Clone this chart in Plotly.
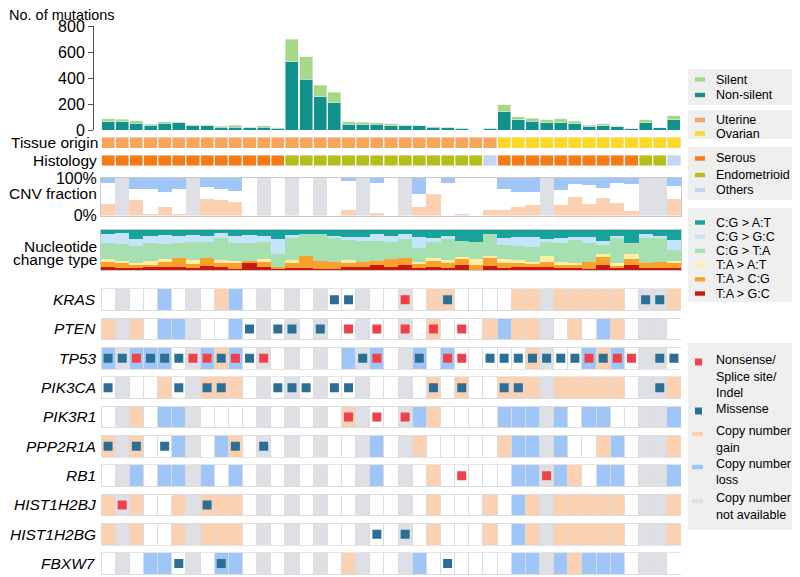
import plotly.graph_objects as go

# 页面 body 默认有 8px 边距：图尺寸与坐标按页面像素减去偏移
PAGE_W, PAGE_H, OFF = 800, 577, 8
W, H = PAGE_W - OFF, PAGE_H - OFF
FONT = "Liberation Sans, Arial, Helvetica, sans-serif"

samples = list(range(41))

# 每个样本的突变数（非沉默 / 沉默）
nonsilent = [62, 62, 51, 38, 51, 54, 31, 33, 23, 23, 18, 21, 15, 526, 392, 256, 208, 44, 44, 44,
             33, 33, 31, 20, 18, 13, 0, 10, 141, 77, 67, 56, 56, 49, 28, 33, 26, 8, 56, 18, 77]
silent = [23, 20, 21, 8, 11, 8, 10, 5, 5, 13, 5, 10, 3, 171, 170, 90, 82, 18, 15, 12,
          16, 5, 2, 6, 5, 2, 3, 5, 54, 26, 23, 23, 31, 18, 10, 16, 2, 0, 21, 0, 31]

# 组织来源 U=Uterine O=Ovarian；组织学 S=Serous E=Endometrioid O=Others
tissue = "UUUUUUUUUUUUUUUUUUUUUUUUUUUU" + "OOOOOOOOOOOOO"
histology = "SSSSSSSSSSSSS" + "EEEEEEEEEEEEEE" + "O" + "SSSSSSSSSS" + "EE" + "O"

# CNV 比例 (%)，None = 无数据
cnv_loss = [14, None, 29, 29, 38, 30, None, 23, 30, 34, 0, None, 0, None, 0, None, 0, 9, None, 12,
            0, None, 43, 0, 12, 0, 0, 0, 30, 36, 36, None, 32, 15, 18, 27, 14, 15, None, None, 21]
cnv_gain = [30, None, 41, 2, 22, 4, None, 45, 41, 36, 0, None, 0, None, 0, None, 0, 14, None, 6,
            0, None, 23, 57, 0, 5, 0, 16, 14, 23, 27, None, 27, 50, 32, 47, 34, 11, None, None, 45]

# 核苷酸替换类型（相对份额）
cg_at = [14, 12, 30, 20, 17, 20, 17, 20, 12, 20, 17, 20, 30, 17, 14, 14, 20, 22, 24, 14, 20,
         14, 22, 27, 20, 34, 37, 14, 27, 24, 24, 30, 27, 22, 24, 34, 20, 42, 14, 20, 32]
cg_gc = [28, 33, 20, 22, 28, 22, 20, 17, 15, 20, 25, 18, 44, 5, 0, 0, 7, 10, 10, 21, 17,
         16, 35, 10, 10, 0, 0, 0, 20, 26, 28, 7, 13, 10, 16, 13, 7, 0, 13, 7, 30]
cg_ta = [48, 50, 50, 53, 45, 45, 55, 50, 65, 55, 53, 52, 38, 70, 66, 81, 70, 60, 63, 60, 53,
         57, 40, 50, 62, 48, 53, 66, 43, 42, 45, 43, 57, 68, 57, 27, 75, 32, 75, 70, 32]
ta_at = [9, 7, 7, 12, 5, 0, 12, 0, 8, 7, 0, 4, 0, 8, 0, 0, 0, 5, 0, 0, 0,
         0, 5, 7, 10, 5, 17, 7, 10, 8, 5, 17, 10, 7, 0, 8, 5, 16, 0, 0, 6]
ta_cg = [13, 13, 5, 7, 19, 27, 13, 23, 14, 18, 7, 18, 5, 17, 37, 25, 23, 15, 15, 12, 24,
         20, 15, 18, 15, 20, 15, 23, 17, 12, 10, 15, 10, 8, 23, 25, 10, 17, 15, 20, 17]
ta_gc = [10, 7, 10, 8, 8, 8, 5, 12, 8, 2, 20, 10, 5, 5, 5, 2, 2, 10, 10, 15, 8,
         15, 5, 10, 5, 15, 0, 12, 5, 10, 10, 10, 5, 7, 2, 15, 5, 15, 5, 5, 5]

# 基因行：CNV 状态 N=中性 G=扩增 L=缺失 X=无数据
gene_names = ["KRAS", "PTEN", "TP53", "PIK3CA", "PIK3R1", "PPP2R1A", "RB1",
              "HIST1H2BJ", "HIST1H2BG", "FBXW7"]
gene_cnv = [
    "NXNNLNXNGLNXNXNXNNXNN" + "XNGGNNNNGGXGGGGGNXXG",
    "GXGNLLXNNLNXNXNXNNXNN" + "XNGNNNGLGGXNGNLGNXXN",
    "LXLLLNXLGLNXNXNXNLXLN" + "XLNLNNNNNGXNNLGLNXXN",
    "NXNNGNXGGGNXNXNXNNXNN" + "XNGNGNNGGGXGGGGGNXXG",
    "NXGNLLXNNNNXNXNXNGXNN" + "XLGNNNNLLLXLNLLNNXXL",
    "GXGNNLXNLGNXNXNXNNXLN" + "XGNNNNNGLLXLNNGLNXXG",
    "NXLNLLXLNLNXNXNXNNXLN" + "XNGNNNNNLLXLGNLLNXXL",
    "GXGNNGXGGGNXNXNXNNXNN" + "XNGNNNGNLGXGGGGGNXXG",
    "GXGNNGXGGGNXNXNXNNXNN" + "XNGNNNGNLGXGGGGGNXXG",
    "NXNLLNXNLLNXNXNXNGXNN" + "XLNNNNNNLLXLGLLLNXXN",
]
gene_missense = [
    [16, 17, 24, 38, 39],
    [10, 12, 13, 15],
    [0, 1, 3, 4, 5, 8, 10, 18, 22, 27, 28, 29, 30, 31, 32, 33, 35, 39, 40],
    [0, 5, 7, 8, 12, 13, 14, 16, 17, 23, 25, 28, 29, 39],
    [],
    [0, 2, 4, 9, 11],
    [],
    [7],
    [19, 21],
    [5, 8, 24],
]
gene_trunc = [
    [21],
    [17, 19, 21, 23, 25],
    [2, 6, 7, 9, 11, 19, 24, 25, 34, 36, 37],
    [],
    [17, 19, 21],
    [],
    [25, 31],
    [1],
    [],
    [],
]

C = {
    "silent": "#a6d886", "nonsilent": "#11918c",
    "U": "#f8a55c", "Ov": "#fbd928",
    "S": "#f77b12", "E": "#b8bf14", "O": "#c4d6f6",
    "gain": "#fbd1b2", "loss": "#9ec6f8", "na": "#dfe0e6",
    "cg_at": "#17a39c", "cg_gc": "#c6e4f7", "cg_ta": "#a6dfb0",
    "ta_at": "#fdf0a6", "ta_cg": "#f9a12c", "ta_gc": "#c9190c",
    "trunc": "#f0414b", "mis": "#2b6e96",
}


def px(x):
    return (x - OFF) / W


def py(y):
    return 1 - (y - OFF) / H


X_DOM = [px(101), px(681)]
panels = [(26, 130), (137, 148.3), (155, 165.7), (178, 215.5), (229.5, 270)]
gene_top = [288.3 + 29.33 * k for k in range(len(gene_names))]
panels += [(t, t + 22.7) for t in gene_top]

fig = go.Figure()
axes = {}
for i, (top, bot) in enumerate(panels, 1):
    sfx = "" if i == 1 else str(i)
    axes["xaxis" + sfx] = dict(domain=X_DOM, range=[-0.5, 40.5], visible=False,
                               anchor="y" + sfx, fixedrange=True, automargin=False)
    axes["yaxis" + sfx] = dict(domain=[py(bot), py(top)], anchor="x" + sfx, visible=False,
                               range=[0, 1], fixedrange=True, automargin=False)


def ax(i):
    sfx = "" if i == 1 else str(i)
    return "x" + sfx, "y" + sfx


# 1. 突变数
xa, ya = ax(1)
fig.add_trace(go.Bar(x=samples, y=nonsilent, width=0.92, marker_color=C["nonsilent"],
                     xaxis=xa, yaxis=ya))
fig.add_trace(go.Bar(x=samples, y=silent, width=0.92, marker_color=C["silent"],
                     xaxis=xa, yaxis=ya))
axes["yaxis"].update(visible=True, range=[0, 800], tickvals=[0, 200, 400, 600, 800],
                     anchor="free", position=px(93), showline=True, linecolor="#555",
                     linewidth=1, ticks="outside", ticklen=5, tickcolor="#555",
                     showgrid=False, zeroline=False,
                     tickfont=dict(size=16, family=FONT, color="black"))

# 2-3. 组织来源 / 组织学
for i, codes, cmap in [(2, tissue, {"U": C["U"], "O": C["Ov"]}),
                       (3, histology, {"S": C["S"], "E": C["E"], "O": C["O"]})]:
    xa, ya = ax(i)
    for code, col in cmap.items():
        xs = [s for s in samples if codes[s] == code]
        fig.add_trace(go.Bar(x=xs, y=[1] * len(xs), width=0.93, marker_color=col,
                             xaxis=xa, yaxis=ya))

# 4. CNV 比例
xa, ya = ax(4)
valid = [s for s in samples if cnv_loss[s] is not None]
na_cols = [s for s in samples if cnv_loss[s] is None]
fig.add_trace(go.Bar(x=valid, y=[cnv_gain[s] for s in valid], width=1,
                     marker=dict(color=C["gain"], line_width=0), xaxis=xa, yaxis=ya))
fig.add_trace(go.Bar(x=valid, y=[100 - cnv_gain[s] - cnv_loss[s] for s in valid], width=1,
                     marker=dict(color="rgba(0,0,0,0)", line_width=0), xaxis=xa, yaxis=ya))
fig.add_trace(go.Bar(x=valid, y=[cnv_loss[s] for s in valid], width=1,
                     marker=dict(color=C["loss"], line_width=0), xaxis=xa, yaxis=ya))
fig.add_trace(go.Bar(x=na_cols, y=[100] * len(na_cols), width=1,
                     marker=dict(color=C["na"], line_width=0), xaxis=xa, yaxis=ya))
frame = dict(visible=True, showline=True, mirror=True, linecolor="#c9c9c9", linewidth=1,
             showgrid=False, zeroline=False, ticks="", showticklabels=False)
axes["xaxis4"].update(frame)
axes["yaxis4"].update(frame)
axes["yaxis4"].update(range=[0, 100], showticklabels=True, tickvals=[0, 100],
                      ticktext=["0%", "100%"],
                      tickfont=dict(size=16, family=FONT, color="black"))

# 5. 核苷酸替换类型（按列归一化到 100%）
xa, ya = ax(5)
nuc = [("ta_gc", ta_gc), ("ta_cg", ta_cg), ("ta_at", ta_at),
       ("cg_ta", cg_ta), ("cg_gc", cg_gc), ("cg_at", cg_at)]
totals = [sum(v[s] for _, v in nuc) for s in samples]
for key, vals in nuc:
    fig.add_trace(go.Bar(x=samples, y=[vals[s] / totals[s] * 100 for s in samples], width=1,
                         marker=dict(color=C[key], line_width=0), xaxis=xa, yaxis=ya))
axes["xaxis5"].update(frame)
axes["yaxis5"].update(frame)
axes["yaxis5"].update(range=[0, 100])

# 6+. 基因行
state_col = {"N": "white", "G": C["gain"], "L": C["loss"], "X": C["na"]}
for g, name in enumerate(gene_names):
    xa, ya = ax(6 + g)
    for st, col in state_col.items():
        xs = [s for s in samples if gene_cnv[g][s] == st]
        fig.add_trace(go.Bar(x=xs, y=[1] * len(xs), width=1,
                             marker=dict(color=col, line=dict(color="#dcdcdc", width=1)),
                             xaxis=xa, yaxis=ya))
    for cols, key in [(gene_missense[g], "mis"), (gene_trunc[g], "trunc")]:
        if cols:
            fig.add_trace(go.Scatter(x=cols, y=[0.5] * len(cols), mode="markers",
                                     marker=dict(symbol="square", size=9, color=C[key],
                                                 line_width=0),
                                     xaxis=xa, yaxis=ya))
    axes["yaxis" + str(6 + g)].update(range=[-0.03, 1.03])

# 左侧标签
ann = []


def label(text, x, y, size=16, anchor="right", yanchor="middle"):
    ann.append(dict(text=text, x=px(x), y=py(y), xref="paper", yref="paper",
                    xanchor=anchor, yanchor=yanchor, showarrow=False, borderpad=0,
                    font=dict(size=size, family=FONT, color="black")))


label("No. of mutations", 8, 6, size=14.5, anchor="left", yanchor="top")
label("Tissue origin", 99, 142.5, size=15.5)
label("Histology", 98, 160.5, size=15.5)
label("CNV fraction", 98, 194, size=15.5)
label("Nucleotide", 98, 246, size=15.5)
label("change type", 98, 259.5, size=15.5)
for g, name in enumerate(gene_names):
    label("<i>" + name + "</i>", 97, gene_top[g] + 11.3, size=15.5)

# 图例（手工排版）
shapes = []
boxes = [(69, 105), (110, 139), (147, 200), (208, 302), (343, 530)]
for t, b in boxes:
    shapes.append(dict(type="rect", xref="paper", yref="paper", x0=px(688), x1=1,
                       y0=py(b), y1=py(t), fillcolor="#efefef", line_width=0, layer="below"))

legend_items = [
    ("bar", C["silent"], ["Silent"], 79.5),
    ("bar", C["nonsilent"], ["Non-silent"], 95),
    ("bar", C["U"], ["Uterine"], 120),
    ("bar", C["Ov"], ["Ovarian"], 133.5),
    ("bar", C["S"], ["Serous"], 158.5),
    ("bar", C["E"], ["Endometrioid"], 175),
    ("bar", C["O"], ["Others"], 190),
    ("bar", C["cg_at"], ["C:G > A:T"], 222.5),
    ("bar", C["cg_gc"], ["C:G > G:C"], 236.7),
    ("bar", C["cg_ta"], ["C:G > T:A"], 250.9),
    ("bar", C["ta_at"], ["T:A > A:T"], 265.1),
    ("bar", C["ta_cg"], ["T:A > C:G"], 279.3),
    ("bar", C["ta_gc"], ["T:A > G:C"], 293.5),
    ("sq", C["trunc"], ["Nonsense/", "Splice site/", "Indel"], 360),
    ("sq", C["mis"], ["Missense"], 409),
    ("bar2", C["gain"], ["Copy number", "gain"], 431),
    ("bar2", C["loss"], ["Copy number", "loss"], 464),
    ("bar2", C["na"], ["Copy number", "not available"], 498),
]
for kind, col, lines, y in legend_items:
    if kind == "bar":
        x0, x1, hh = 695, 705, 2.2
    elif kind == "bar2":
        x0, x1, hh = 692, 703, 2.2
    else:
        x0, x1, hh = 695, 702, 3.5
    sy = y + 2 if kind == "sq" else y + 3 if kind == "bar2" else y
    shapes.append(dict(type="rect", xref="paper", yref="paper", x0=px(x0), x1=px(x1),
                       y0=py(sy + hh), y1=py(sy - hh), fillcolor=col, line_width=0))
    for k, line in enumerate(lines):
        label(line, 715, y + k * 16.5, size=12.5, anchor="left")

fig.update_layout(
    width=W, height=H, margin=dict(l=0, r=0, t=0, b=0, pad=0), autosize=False,
    paper_bgcolor="white", plot_bgcolor="white",
    barmode="stack", showlegend=False,
    font=dict(family=FONT, color="black"),
    annotations=ann, shapes=shapes, **axes,
)
fig.write_html("out.html")
